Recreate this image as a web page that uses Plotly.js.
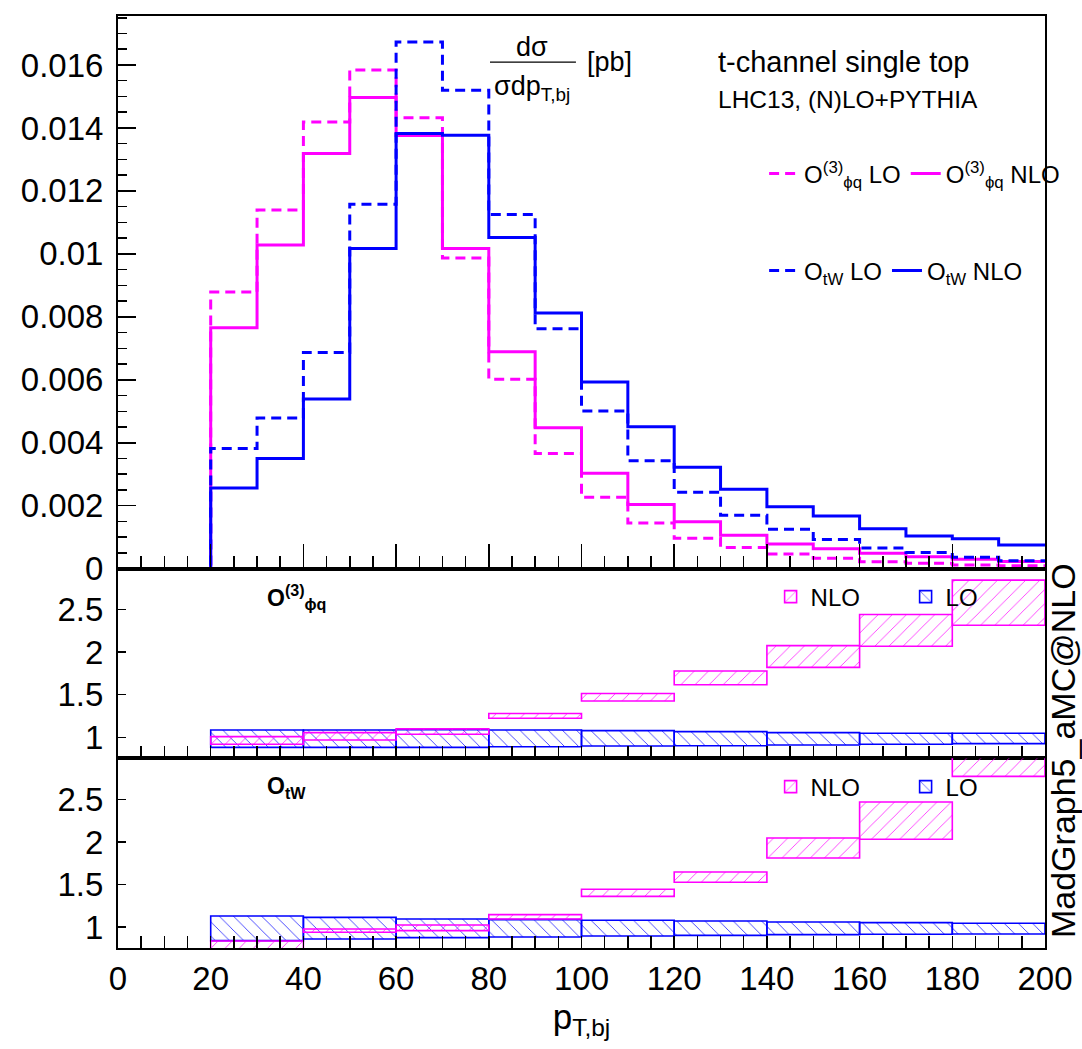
<!DOCTYPE html>
<html><head><meta charset="utf-8">
<script src="https://cdn.plot.ly/plotly-3.0.1.min.js"></script>
<style>body{margin:0;background:#fff;} #chart{width:1082px;height:1049px;}</style>
</head><body><div id="chart"></div>
<script>
// ---- top panel: normalised distributions, 10 GeV bins ----
const binEdges = [0,10,20,30,40,50,60,70,80,90,100,110,120,130,140,150,160,170,180,190,200];
const phiqLO  = [0,0,0.00879,0.01139,0.01419,0.01584,0.01432,0.00987,0.00602,0.00366,0.00227,0.00145,0.00097,0.00067,0.00047,0.00033,0.00022,0.00017,0.00012,0.00009];
const phiqNLO = [0,0,0.00765,0.01028,0.01319,0.01497,0.01376,0.01017,0.00689,0.00448,0.00303,0.00204,0.00149,0.00106,0.00078,0.00063,0.00049,0.00038,0.00030,0.00023];
const tWLO    = [0,0,0.00382,0.00479,0.00687,0.01158,0.01673,0.01520,0.01125,0.00762,0.00501,0.00343,0.00243,0.00170,0.00125,0.00093,0.00066,0.00051,0.00036,0.00025];
const tWNLO   = [0,0,0.00256,0.00350,0.00539,0.01017,0.01382,0.01377,0.01052,0.00812,0.00593,0.00451,0.00322,0.00252,0.00197,0.00167,0.00127,0.00104,0.00095,0.00075];

// ---- ratio panels: 20 GeV bins, band low / high ----
const ratioEdges = [20,40,60,80,100,120,140,160,180,200];
const phiqNLOlo = [0.918,0.968,1.035,1.223,1.425,1.615,1.819,2.066,2.313];
const phiqNLOhi = [1.007,1.054,1.098,1.278,1.513,1.776,2.074,2.439,2.842];
const phiqLOlo  = [0.882,0.882,0.882,0.889,0.898,0.900,0.909,0.918,0.925];
const phiqLOhi  = [1.086,1.086,1.088,1.085,1.078,1.066,1.054,1.047,1.047];
const tWNLOlo   = [0.700,0.938,0.957,1.094,1.361,1.526,1.812,2.032,2.773];
const tWNLOhi   = [0.835,0.976,1.024,1.146,1.444,1.647,2.047,2.471,3.200];
const tWLOlo    = [0.840,0.859,0.875,0.882,0.894,0.902,0.910,0.914,0.918];
const tWLOhi    = [1.129,1.114,1.094,1.087,1.079,1.071,1.059,1.052,1.044];

const xTickVals = [0,20,40,60,80,100,120,140,160,180,200];
const ratioTickVals = [1,1.5,2,2.5];
const ratioTickText = ['1','1.5','2','2.5'];

const MAG = '#ff00ff', BLU = '#0000ff';
const FONT = 'Liberation Sans, Arial, Helvetica, sans-serif';

function histTrace(vals, color, dash, name, legend) {
  return {type:'scatter', mode:'lines', x: binEdges, y: vals.concat([vals[vals.length-1]]),
    line:{shape:'hv', color:color, width:3, dash:dash}, name:name, legend:legend,
    xaxis:'x', yaxis:'y', hoverinfo:'skip'};
}
function bandTrace(lo, hi, color, shape, name, ax, legend) {
  const cx = [], w = [], h = [];
  for (let i = 0; i < lo.length; i++) {
    cx.push((ratioEdges[i] + ratioEdges[i+1]) / 2);
    w.push(ratioEdges[i+1] - ratioEdges[i]);
    h.push(hi[i] - lo[i]);
  }
  return {type:'bar', x: cx, y: h, base: lo, width: w, name: name, legend: legend,
    xaxis: ax[0], yaxis: ax[1], hoverinfo:'skip',
    marker:{color:'rgba(0,0,0,0)', line:{color:color, width:1.6},
      pattern:{shape:shape, fgcolor:color, bgcolor:'rgba(0,0,0,0)', size:10, solidity:0.07}}};
}

const traces = [
  histTrace(phiqLO, MAG, '10px,6px', 'O<sup>(3)</sup><sub>ϕq</sub> LO', 'legend'),
  histTrace(phiqNLO, MAG, 'solid', 'O<sup>(3)</sup><sub>ϕq</sub> NLO', 'legend'),
  histTrace(tWLO, BLU, '10px,6px', 'O<sub>tW</sub> LO', 'legend2'),
  histTrace(tWNLO, BLU, 'solid', 'O<sub>tW</sub> NLO', 'legend2'),
  bandTrace(phiqLOlo, phiqLOhi, BLU, '\\', 'LO', ['x2','y2'], 'legend3'),
  bandTrace(phiqNLOlo, phiqNLOhi, MAG, '/', 'NLO', ['x2','y2'], 'legend3'),
  bandTrace(tWLOlo, tWLOhi, BLU, '\\', 'LO', ['x3','y3'], 'legend4'),
  bandTrace(tWNLOlo, tWNLOhi, MAG, '/', 'NLO', ['x3','y3'], 'legend4')
];

const base = {showline:true, linecolor:'black', linewidth:2, mirror:true, showgrid:false, zeroline:false,
  ticks:'inside', tickcolor:'black', tickwidth:1.5, tickfont:{size:33, family:FONT, color:'black'}};
function minor(dt, len) { return {dtick:dt, ticklen:len, ticks:'inside', tickcolor:'black', tickwidth:1.5, showgrid:false}; }

const legBase = {orientation:'h', bgcolor:'rgba(0,0,0,0)', xanchor:'left', yanchor:'middle', traceorder:'normal',
  font:{family:FONT, size:24, color:'black'}};

const layout = {
  width:1082, height:1049, paper_bgcolor:'white', plot_bgcolor:'white',
  margin:{l:118, r:37, t:16, b:101, autoexpand:false}, barmode:'overlay', bargap:0,
  font:{family:FONT, color:'black'},
  xaxis: Object.assign({}, base, {domain:[0,1], anchor:'y', range:[0,200], tickvals:xTickVals, showticklabels:false, ticklen:25, minor:minor(5,13)}),
  yaxis: Object.assign({}, base, {domain:[0.407,1], anchor:'x', range:[0,0.017556], dtick:0.002, tick0:0, ticklen:18, minor:minor(0.0005,9), ticklabelstandoff:6}),
  xaxis2: Object.assign({}, base, {domain:[0,1], anchor:'y2', range:[0,200], matches:'x', dtick:5, tick0:0, ticklen:12, showticklabels:false}),
  yaxis2: Object.assign({}, base, {domain:[0.2035,0.407], anchor:'x2', range:[0.753,2.976], tickvals:ratioTickVals, ticktext:ratioTickText, ticklen:8, ticklabelstandoff:6}),
  xaxis3: Object.assign({}, base, {domain:[0,1], anchor:'y3', range:[0,200], matches:'x', tickvals:xTickVals, ticklen:12, minor:minor(5,12),
    title:{text:'p<sub>T,bj</sub>', font:{size:35, family:FONT, color:'black'}, standoff:4}}),
  yaxis3: Object.assign({}, base, {domain:[0,0.2035], anchor:'x3', range:[0.753,2.985], tickvals:ratioTickVals, ticktext:ratioTickText, ticklen:8, ticklabelstandoff:6}),
  showlegend:true,
  legend: Object.assign({}, legBase, {x:0.697, y:0.8305}),
  legend2: Object.assign({}, legBase, {x:0.697, y:0.7264}),
  legend3: Object.assign({}, legBase, {x:0.704, y:0.3766, traceorder:'reversed', entrywidth:90, entrywidthmode:'pixels'}),
  legend4: Object.assign({}, legBase, {x:0.704, y:0.1727, traceorder:'reversed', entrywidth:90, entrywidthmode:'pixels'}),
  shapes:[
    {type:'line', xref:'paper', yref:'paper', x0:0.4013, x1:0.494, y0:0.9506, y1:0.9506, line:{color:'black', width:1.2}}
  ],
  annotations:[
    {text:'dσ', xref:'paper', yref:'paper', x:0.4466, y:0.9667, xanchor:'center', yanchor:'middle', showarrow:false, font:{size:27}},
    {text:'σdp<sub>T,bj</sub>', xref:'paper', yref:'paper', x:0.4466, y:0.9227, xanchor:'center', yanchor:'middle', showarrow:false, font:{size:27}},
    {text:'[pb]', xref:'paper', yref:'paper', x:0.5038, y:0.9506, xanchor:'left', yanchor:'middle', showarrow:false, font:{size:27}},
    {text:'t-channel single top', xref:'paper', yref:'paper', x:0.645, y:0.9506, xanchor:'left', yanchor:'middle', showarrow:false, font:{size:29}},
    {text:'LHC13, (N)LO+PYTHIA', xref:'paper', yref:'paper', x:0.645, y:0.9106, xanchor:'left', yanchor:'middle', showarrow:false, font:{size:24.5}},
    {text:'<b>O<sup>(3)</sup><sub>ϕq</sub></b>', xref:'paper', yref:'paper', x:0.1586, y:0.3766, xanchor:'left', yanchor:'middle', showarrow:false, font:{size:23}},
    {text:'<b>O<sub>tW</sub></b>', xref:'paper', yref:'paper', x:0.1586, y:0.1727, xanchor:'left', yanchor:'middle', showarrow:false, font:{size:23}},
    {text:'MadGraph5_aMC@NLO', xref:'paper', yref:'paper', x:1.0194, y:0.2124, xanchor:'center', yanchor:'middle', textangle:-90, showarrow:false, font:{size:34}}
  ]
};

Plotly.newPlot('chart', traces, layout, {staticPlot:true, displayModeBar:false});
</script>
</body></html>
